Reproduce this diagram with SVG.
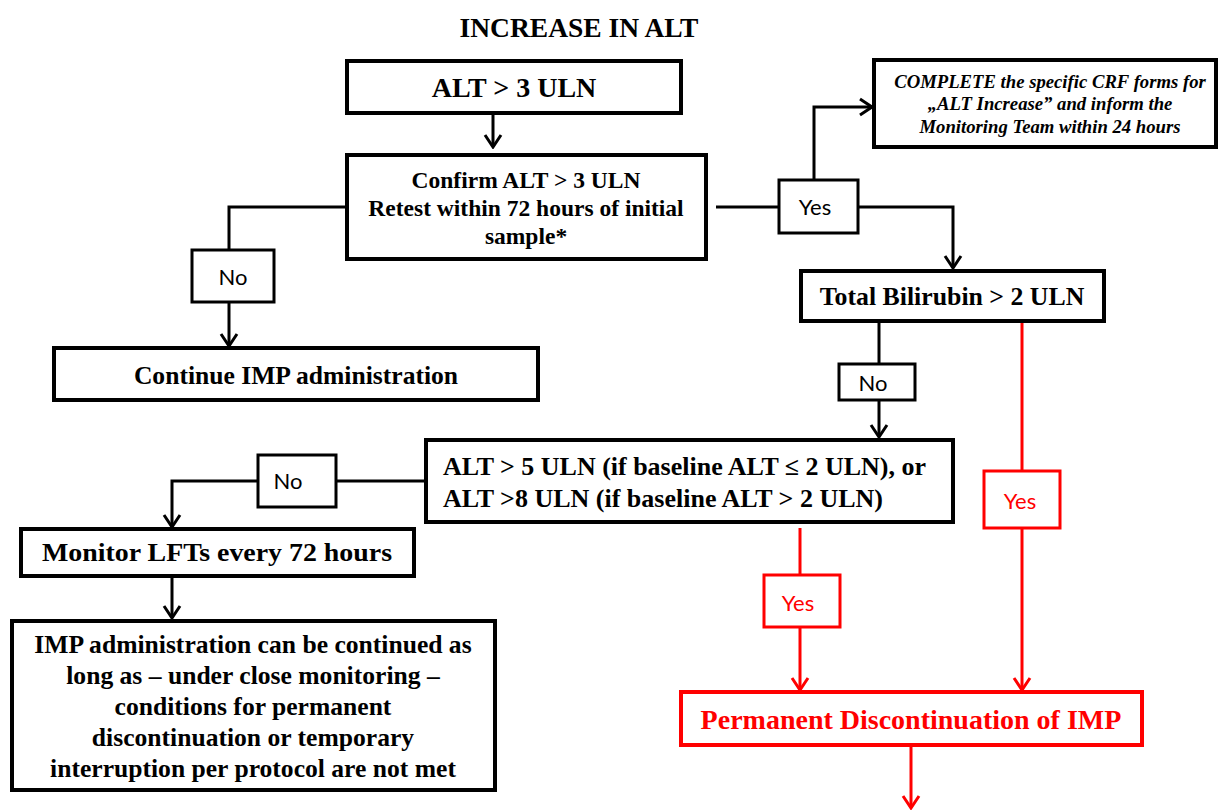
<svg xmlns="http://www.w3.org/2000/svg" width="1218" height="810" viewBox="0 0 1218 810">
<style>
.box{fill:#fff;stroke:#000;stroke-width:4}
.rbox{fill:#fff;stroke:#f00;stroke-width:4}
.lbl{fill:#fff;stroke:#000;stroke-width:3}
.rlbl{fill:#fff;stroke:#f00;stroke-width:3}
.t{font-family:"Liberation Serif","Times New Roman",serif;font-weight:bold;fill:#000;text-anchor:middle}
.ts{text-anchor:start}
.ti{font-family:"Liberation Serif","Times New Roman",serif;font-weight:bold;font-style:italic;fill:#000;text-anchor:middle;font-size:18.7px}
.l{font-family:Lato,"Open Sans",sans-serif;font-size:22px;fill:#000;text-anchor:middle}
.rl{fill:#f00}
.c{fill:none;stroke:#000;stroke-width:3}
.rc{fill:none;stroke:#f00;stroke-width:3}
</style>
<defs>
<marker id="ah" markerUnits="userSpaceOnUse" viewBox="0 0 16 20" refX="14" refY="10" markerWidth="16" markerHeight="20" orient="auto">
<path d="M2,2 L14,10 L2,18" fill="none" stroke="#000" stroke-width="3"/>
</marker>
<marker id="rah" markerUnits="userSpaceOnUse" viewBox="0 0 16 20" refX="14" refY="10" markerWidth="16" markerHeight="20" orient="auto">
<path d="M2,2 L14,10 L2,18" fill="none" stroke="#f00" stroke-width="3"/>
</marker>
</defs>
<rect width="1218" height="810" fill="#fff"/>
<text class="t" x="579" y="37" font-size="27.5">INCREASE IN ALT</text>

<g id="connectors">
<path class="c" d="M493,115 V147" marker-end="url(#ah)"/>
<path class="c" d="M716,207 H779"/>
<path class="c" d="M858,207 H953 V268" marker-end="url(#ah)"/>
<path class="c" d="M814,180 V107 H872" marker-end="url(#ah)"/>
<path class="c" d="M346,207 H229 V250"/>
<path class="c" d="M229,302 V346" marker-end="url(#ah)"/>
<path class="c" d="M879,321 V364"/>
<path class="c" d="M879,400 V437" marker-end="url(#ah)"/>
<path class="c" d="M425,481 H336"/>
<path class="c" d="M258,481 H172 V527" marker-end="url(#ah)"/>
<path class="c" d="M172,576 V618" marker-end="url(#ah)"/>
<path class="rc" d="M1022,321 V471"/>
<path class="rc" d="M1022,528 V690" marker-end="url(#rah)"/>
<path class="rc" d="M800,528 V575"/>
<path class="rc" d="M800,627 V690" marker-end="url(#rah)"/>
<path class="rc" d="M911,745 V808" marker-end="url(#rah)"/>
</g>

<g id="n-alt3">
<rect class="box" x="347" y="61" width="334" height="52"/>
<text class="t" x="514" y="97" font-size="28">ALT &gt; 3 ULN</text>
</g>
<g id="n-confirm">
<rect class="box" x="347" y="155" width="359" height="104"/>
<text class="t" x="526" y="188" font-size="23.5">Confirm ALT &gt; 3 ULN</text>
<text class="t" x="526" y="216" font-size="23.5">Retest within 72 hours of initial</text>
<text class="t" x="526" y="244" font-size="23.5">sample*</text>
</g>
<g id="n-crf">
<rect class="box" x="874" y="60" width="342" height="87"/>
<text class="ti" x="1050" y="88">COMPLETE the specific CRF forms for</text>
<text class="ti" x="1050" y="110">„ALT Increase” and inform the</text>
<text class="ti" x="1050" y="133">Monitoring Team within 24 hours</text>
</g>
<g id="l-yes1">
<rect class="lbl" x="779" y="180" width="79" height="53"/>
<text class="l" x="815" y="215">Yes</text>
</g>
<g id="n-bili">
<rect class="box" x="801" y="271" width="303" height="50"/>
<text class="t" x="952" y="305" font-size="25.8">Total Bilirubin &gt; 2 ULN</text>
</g>
<g id="l-no1">
<rect class="lbl" x="192" y="250" width="82" height="52"/>
<text class="l" x="233" y="285">No</text>
</g>
<g id="n-continue">
<rect class="box" x="54" y="348" width="484" height="52"/>
<text class="t" x="296" y="384" font-size="25.6">Continue IMP administration</text>
</g>
<g id="l-no2">
<rect class="lbl" x="839" y="364" width="76" height="36"/>
<text class="l" x="873" y="391">No</text>
</g>
<g id="n-alt5">
<rect class="box" x="426" y="440" width="527" height="82"/>
<text class="t ts" x="443" y="475" font-size="25" textLength="483" lengthAdjust="spacingAndGlyphs">ALT &gt; 5 ULN (if baseline ALT ≤ 2 ULN), or</text>
<text class="t ts" x="443" y="507" font-size="25" textLength="440" lengthAdjust="spacingAndGlyphs">ALT &gt;8 ULN (if baseline ALT &gt; 2 ULN)</text>
</g>
<g id="l-no3">
<rect class="lbl" x="258" y="455" width="78" height="52"/>
<text class="l" x="288" y="489">No</text>
</g>
<g id="n-monitor">
<rect class="box" x="21" y="529" width="393" height="47"/>
<text class="t" x="217" y="561" font-size="26" textLength="350" lengthAdjust="spacingAndGlyphs">Monitor LFTs every 72 hours</text>
</g>
<g id="n-imp">
<rect class="box" x="12" y="621" width="483" height="169"/>
<text class="t" x="253" y="653" font-size="25.6">IMP administration can be continued as</text>
<text class="t" x="253" y="684" font-size="25.6">long as – under close monitoring –</text>
<text class="t" x="253" y="715" font-size="25.6">conditions for permanent</text>
<text class="t" x="253" y="746" font-size="25.6">discontinuation or temporary</text>
<text class="t" x="253" y="777" font-size="25.6">interruption per protocol are not met</text>
</g>
<g id="l-yes2">
<rect class="rlbl" x="984" y="471" width="76" height="57"/>
<text class="l rl" x="1020" y="509">Yes</text>
</g>
<g id="l-yes3">
<rect class="rlbl" x="764" y="575" width="76" height="52"/>
<text class="l rl" x="798" y="611">Yes</text>
</g>
<g id="n-perm">
<rect class="rbox" x="681" y="692" width="461" height="53"/>
<text class="t rl" x="911" y="729" font-size="28">Permanent Discontinuation of IMP</text>
</g>
</svg>
